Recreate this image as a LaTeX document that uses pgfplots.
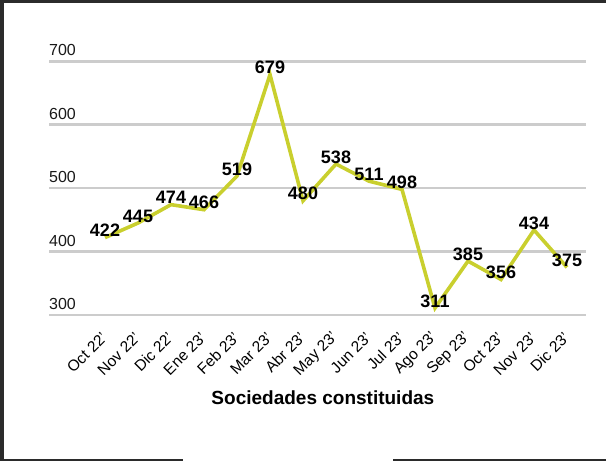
\documentclass[border=0pt]{standalone}
\usepackage{fontspec}
\setmainfont{Liberation Sans}
\usepackage{pgfplots}
\pgfplotsset{compat=1.18}
\usepackage{xcolor}

\definecolor{serie}{HTML}{C9CF2E}
\definecolor{rejilla}{HTML}{CCCCCC}
\definecolor{marco}{HTML}{2B2B2B}

\begin{document}
\begin{tikzpicture}[x=1bp,y=1bp]
\useasboundingbox (0,0) rectangle (606,461);
% marco oscuro de la captura
\fill[marco] (0,458) rectangle (606,461);
\fill[marco] (0,0) rectangle (4,461);
\fill[marco] (0,0) rectangle (183,1.5);
\fill[marco] (393,0) rectangle (606,1.5);

\begin{axis}[
    at={(49bp,146bp)}, anchor=south west,
    scale only axis,
    width=537bp, height=253.7bp,
    xmin=-1.697, xmax=14.576,
    ymin=300, ymax=700,
    ytick={300,400,500,600,700},
    xtick=data,
    xticklabels={Oct 22',Nov 22',Dic 22',Ene 23',Feb 23',Mar 23',Abr 23',May 23',Jun 23',Jul 23',Ago 23',Sep 23',Oct 23',Nov 23',Dic 23'},
    /pgf/number format/assume math mode=true,
    axis x line*=bottom, axis y line*=left,
    axis line style={draw=none},
    major tick length=0pt,
    ymajorgrids,
    grid style={rejilla, line width=2.6bp},
    yticklabel style={anchor=base west, inner sep=0pt, yshift=5.5bp,
        font=\fontsize{16bp}{18bp}\selectfont, text=black!90},
    xticklabel style={yshift=-20bp, xshift=-0.5bp, rotate=45, anchor=east, inner sep=0pt,
        font=\fontsize{15.5bp}{17bp}\selectfont, text=black},
    clip=false,
    nodes near coords,
    every node near coord/.append style={anchor=base, inner sep=0pt, yshift=1bp,
        font=\fontsize{18bp}{20bp}\selectfont\bfseries, text=black},
]
\addplot[serie, line width=3.6bp, mark=none] coordinates {
    (0,422) (1,445) (2,474) (3,466) (4,519) (5,679) (6,480) (7,538)
    (8,511) (9,498) (10,311) (11,385) (12,356) (13,434) (14,375)
};
\node[anchor=base, font=\fontsize{19bp}{21bp}\selectfont\bfseries]
    at (rel axis cs:0.510,-0.3547) {Sociedades constituidas};
\end{axis}
\end{tikzpicture}
\end{document}
